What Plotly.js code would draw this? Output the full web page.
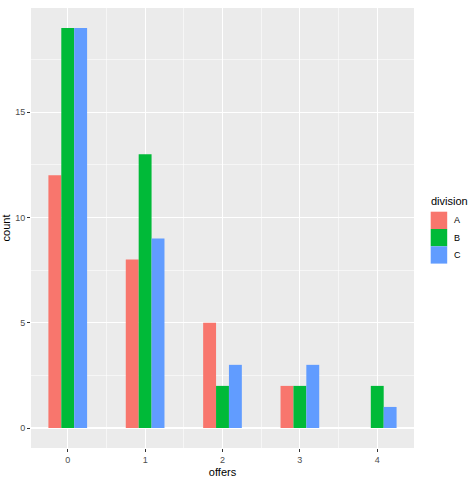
<!DOCTYPE html>
<html>
<head>
<meta charset="utf-8">
<script src="https://cdn.plot.ly/plotly-3.0.1.min.js"></script>
<style>
html,body{margin:0;padding:0;background:#fff;}
#chart{width:470px;height:485px;}
</style>
</head>
<body>
<div id="chart"></div>
<script>
var offers = [0, 1, 2, 3, 4];
var divisions = ["A", "B", "C"];
var countA = [12, 8, 5, 2, 0];
var countB = [19, 13, 2, 2, 2];
var countC = [19, 9, 3, 3, 1];
var colors = ["#F8766D", "#00BA38", "#619CFF"];
var yTicks = [0, 5, 10, 15];
var legendTitle = "division";

var W = 470, H = 485;
var M = {l: 31, r: 56, t: 8, b: 37};
var pw = W - M.l - M.r, ph = H - M.t - M.b;
function px2x(px) { return (px - M.l) / pw; }
function py2y(py) { return (H - M.b - py) / ph; }

var series = [countA, countB, countC];
var traces = divisions.map(function (d, i) {
  return {
    type: "bar",
    name: d,
    x: offers,
    y: series[i],
    marker: {color: colors[i], line: {width: 0}},
    hoverinfo: "x+y+name",
    showlegend: false
  };
});

// ggplot-style legend built from divisions/colors
var keyLeft = 430.7, keyRight = 447.2, keyTop = 211.7, keyH = 17.3;
var shapes = [], annotations = [];
divisions.forEach(function (d, i) {
  var t = keyTop + i * keyH;
  shapes.push({
    type: "rect", xref: "paper", yref: "paper", layer: "above",
    x0: px2x(keyLeft), x1: px2x(keyRight), y0: py2y(t + keyH), y1: py2y(t),
    fillcolor: colors[i], line: {width: 0}
  });
  annotations.push({
    xref: "paper", yref: "paper", x: px2x(452.5), y: py2y(t + keyH / 2),
    xanchor: "left", yanchor: "middle", showarrow: false, text: d,
    font: {size: 9, color: "#000000"}
  });
});
annotations.push({
  xref: "paper", yref: "paper", x: px2x(429.5), y: py2y(200.7),
  xanchor: "left", yanchor: "middle", showarrow: false, text: legendTitle,
  font: {size: 11, color: "#000000"}
});

var layout = {
  width: W,
  height: H,
  margin: {l: M.l, r: M.r, t: M.t, b: M.b, pad: 0, autoexpand: false},
  paper_bgcolor: "#FFFFFF",
  plot_bgcolor: "#EBEBEB",
  barmode: "group",
  bargap: 0.5,
  bargroupgap: 0,
  showlegend: false,
  font: {family: "Liberation Sans, Arial, sans-serif", color: "#000000"},
  xaxis: {
    type: "linear",
    range: [-0.475, 4.475],
    tickvals: offers,
    ticktext: offers.map(String),
    ticks: "outside",
    ticklen: 3,
    tickwidth: 1,
    tickcolor: "#333333",
    tickfont: {size: 9, color: "#4D4D4D"},
    showgrid: true,
    gridcolor: "#FFFFFF",
    gridwidth: 1.1,
    zeroline: false,
    showline: false,
    minor: {tickvals: [0.5, 1.5, 2.5, 3.5], showgrid: true, gridcolor: "#FFFFFF", gridwidth: 0.55, ticks: ""},
    title: {text: "offers", font: {size: 11, color: "#000000"}, standoff: 4}
  },
  yaxis: {
    range: [-0.95, 19.95],
    tickvals: yTicks,
    ticktext: yTicks.map(String),
    ticks: "outside",
    ticklen: 3,
    tickwidth: 1,
    tickcolor: "#333333",
    tickfont: {size: 9, color: "#4D4D4D"},
    showgrid: true,
    gridcolor: "#FFFFFF",
    gridwidth: 1.1,
    zeroline: false,
    showline: false,
    minor: {tickvals: [2.5, 7.5, 12.5, 17.5], showgrid: true, gridcolor: "#FFFFFF", gridwidth: 0.55, ticks: ""},
    title: {text: "count", font: {size: 11, color: "#000000"}, standoff: 4}
  },
  shapes: shapes,
  annotations: annotations
};

Plotly.newPlot("chart", traces, layout, {displayModeBar: false, staticPlot: true});
</script>
</body>
</html>
